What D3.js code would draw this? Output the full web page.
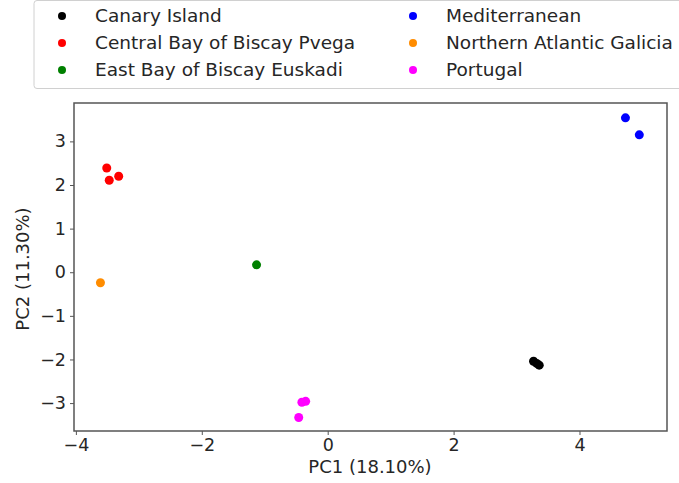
<!DOCTYPE html>
<html>
<head>
<meta charset="utf-8">
<script src="https://cdn.jsdelivr.net/npm/d3@7"></script>
<style>
  body { margin: 0; background: #fff; }
  text { font-family: "DejaVu Sans", sans-serif; fill: #262626; }
</style>
</head>
<body>
<div id="chart"></div>
<script>
// groups in legend order
var groups = ['Canary Island', 'Central Bay of Biscay Pvega', 'East Bay of Biscay Euskadi',
              'Mediterranean', 'Northern Atlantic Galicia', 'Portugal'];
var colors = ['#000000', '#ff0000', '#008000', '#0000ff', '#ff8c00', '#ff00ff'];

// PCA scores
var pc1 = {
  'Canary Island': [3.27, 3.32, 3.36],
  'Central Bay of Biscay Pvega': [-3.51, -3.47, -3.32],
  'East Bay of Biscay Euskadi': [-1.13],
  'Mediterranean': [4.73, 4.95],
  'Northern Atlantic Galicia': [-3.61],
  'Portugal': [-0.41, -0.35, -0.46]
};
var pc2 = {
  'Canary Island': [-2.04, -2.09, -2.13],
  'Central Bay of Biscay Pvega': [2.39, 2.11, 2.20],
  'East Bay of Biscay Euskadi': [0.17],
  'Mediterranean': [3.54, 3.15],
  'Northern Atlantic Galicia': [-0.24],
  'Portugal': [-2.98, -2.96, -3.33]
};
var xTicks = [-4, -2, 0, 2, 4];
var yTicks = [-3, -2, -1, 0, 1, 2, 3];

var width = 679, height = 483;
var svg = d3.select('#chart').append('svg')
  .attr('width', width)
  .attr('height', height);

var x = d3.scaleLinear().domain([-4.03, 5.39]).range([74, 667]);
var y = d3.scaleLinear().domain([-3.64, 3.88]).range([431, 103]);

var points = [];
groups.forEach(function(g, i) {
  pc1[g].forEach(function(v, j) {
    points.push({ group: g, color: colors[i], x: v, y: pc2[g][j] });
  });
});

// axes
var fmt = function(d) { return d < 0 ? '\u2212' + Math.abs(d) : d; };
var xAxis = svg.append('g')
  .attr('transform', 'translate(0,431)')
  .call(d3.axisBottom(x).tickValues(xTicks).tickSize(4).tickPadding(4).tickFormat(fmt));
var yAxis = svg.append('g')
  .attr('transform', 'translate(74,0)')
  .call(d3.axisLeft(y).tickValues(yTicks).tickSize(4).tickPadding(4).tickFormat(fmt));
[xAxis, yAxis].forEach(function(a) {
  a.select('.domain').remove();
  a.selectAll('line').attr('stroke', '#555').attr('stroke-width', 1);
  a.selectAll('text').style('font-size', '17.5px').attr('fill', '#262626');
});

// frame
svg.append('rect')
  .attr('x', 74).attr('y', 103)
  .attr('width', 667 - 74).attr('height', 431 - 103)
  .attr('fill', 'none')
  .attr('stroke', '#555')
  .attr('stroke-width', 1.5);

// points
svg.selectAll('circle.pt')
  .data(points)
  .enter()
  .append('circle')
  .attr('class', 'pt')
  .attr('cx', function(d) { return x(d.x); })
  .attr('cy', function(d) { return y(d.y); })
  .attr('r', 4.5)
  .attr('fill', function(d) { return d.color; });

// axis titles
svg.append('text')
  .attr('x', 370).attr('y', 473)
  .attr('text-anchor', 'middle')
  .style('font-size', '18px')
  .text('PC1 (18.10%)');
svg.append('text')
  .attr('transform', 'translate(29,269) rotate(-90)')
  .attr('text-anchor', 'middle')
  .style('font-size', '18px')
  .text('PC2 (11.30%)');

// legend
svg.append('rect')
  .attr('x', 34).attr('y', 0.5)
  .attr('width', 700).attr('height', 88)
  .attr('rx', 3)
  .attr('fill', '#fff')
  .attr('stroke', '#d0d0d0');

var legend = svg.selectAll('g.leg')
  .data(groups)
  .enter()
  .append('g')
  .attr('class', 'leg')
  .attr('transform', function(d, i) {
    var col = Math.floor(i / 3), row = i % 3;
    return 'translate(' + (62 + col * 351) + ',' + (16 + row * 27) + ')';
  });
legend.append('circle')
  .attr('r', 4)
  .attr('fill', function(d, i) { return colors[i]; });
legend.append('text')
  .attr('x', 33)
  .attr('dy', '0.35em')
  .style('font-size', '18.5px')
  .text(function(d) { return d; });
</script>
</body>
</html>
